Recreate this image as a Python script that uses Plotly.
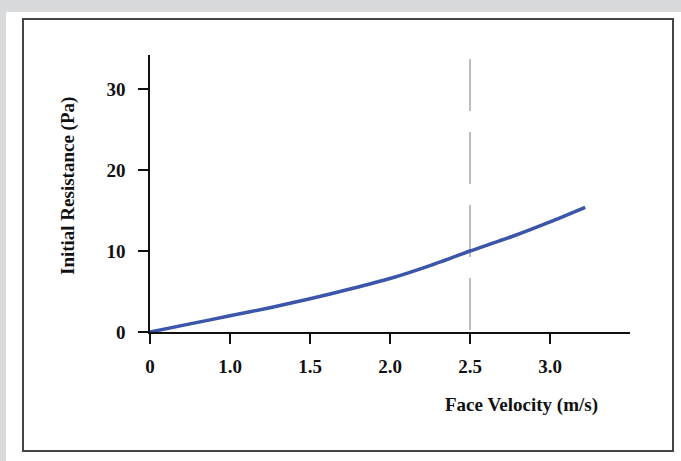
import plotly.graph_objects as go

# face velocity (axis units; first tick labelled "0") and initial resistance
velocity = [0.5, 0.75, 1.0, 1.25, 1.5, 1.75, 2.0, 2.25, 2.5, 2.75, 3.0, 3.22]
resistance = [0.0, 1.0, 2.0, 3.0, 4.1, 5.3, 6.6, 8.2, 10.0, 11.7, 13.6, 15.4]

x_tickvals = [0.5, 1.0, 1.5, 2.0, 2.5, 3.0]
x_ticktext = ["0", "1.0", "1.5", "2.0", "2.5", "3.0"]
y_tickvals = [0, 10, 20, 30]
marker_velocity = 2.5

W, H = 681, 461
L, R, T, B = 150, 630, 55, 332  # plot area in pixels


def px(x):
    return (x - L) / (R - L)


def py(y):
    return (B - y) / (B - T)


FONT = "Liberation Serif"
tick_font = dict(family=FONT, size=19, color="#111", weight="bold")

fig = go.Figure()
fig.add_trace(go.Scatter(
    x=velocity, y=resistance, mode="lines",
    line=dict(color="#3a55aa", width=3.5, shape="spline", smoothing=0.6),
    showlegend=False, hoverinfo="skip"))

# reference line at 2.5 m/s, drawn top-down so the dashes start at the top
fig.add_shape(type="line", xref="x", yref="y",
              x0=marker_velocity, x1=marker_velocity, y0=33.7, y1=0,
              line=dict(color="#a8a8a8", width=1.5, dash="52px,21px"), layer="below")

# white panel and dark frame
fig.add_shape(type="rect", xref="paper", yref="paper",
              x0=px(6), x1=px(681), y0=py(461), y1=py(12),
              fillcolor="white", line=dict(width=0), layer="below")
fig.add_shape(type="rect", xref="paper", yref="paper",
              x0=px(23), x1=px(673), y0=py(451), y1=py(19),
              fillcolor="rgba(0,0,0,0)", line=dict(color="#444444", width=2), layer="above")

fig.add_annotation(text="<b>Initial Resistance (Pa)</b>", textangle=-90,
                   xref="paper", yref="paper", x=px(68), y=py(186),
                   xanchor="center", yanchor="middle",
                   showarrow=False, font=dict(family=FONT, size=19, color="#111"))
fig.add_annotation(text="<b>Face Velocity (m/s)</b>",
                   xref="paper", yref="paper", x=px(521), y=py(405),
                   xanchor="center", yanchor="middle",
                   showarrow=False, font=dict(family=FONT, size=19, color="#111"))

fig.update_xaxes(range=[0.5, 3.5], tickvals=x_tickvals, ticktext=x_ticktext,
                 showline=True, linecolor="#111", linewidth=1.5,
                 ticks="outside", ticklen=10, tickwidth=1.5, tickcolor="#111",
                 showgrid=False, zeroline=False, ticklabelstandoff=6,
                 tickfont=tick_font)
fig.update_yaxes(range=[0, 34.2], tickvals=y_tickvals,
                 showline=True, linecolor="#111", linewidth=1.5,
                 ticks="outside", ticklen=10, tickwidth=1.5, tickcolor="#111",
                 showgrid=False, zeroline=False, ticklabelstandoff=9,
                 tickfont=tick_font)

fig.update_layout(width=W, height=H,
                  margin=dict(l=L, r=W - R, t=T, b=H - B),
                  paper_bgcolor="#d9dadc", plot_bgcolor="white")
fig.update_layout(font=dict(family=FONT))
fig.write_html("out.html", config={"displayModeBar": False},
               post_script="document.body.style.margin='0';")
